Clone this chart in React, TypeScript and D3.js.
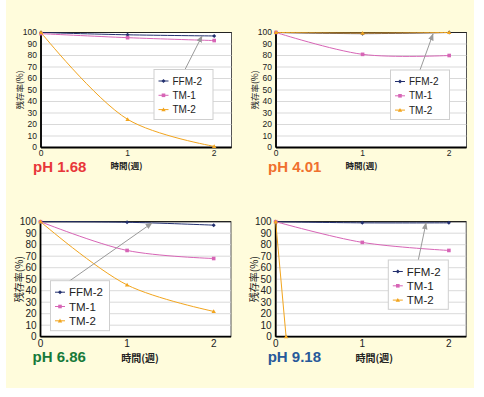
import * as d3 from 'd3'

// time axis (weeks)
const weeks = [0, 1, 2]
const xTicks = [0, 1, 2]
const yTicks = [0, 10, 20, 30, 40, 50, 60, 70, 80, 90, 100]
const seriesNames = ['FFM-2', 'TM-1', 'TM-2']

// pH 1.68
const ph168FFM2 = [100, 98, 97]
const ph168TM1 = [99, 95.5, 93]
const ph168TM2 = [100, 24.5, 1]

// pH 4.01
const ph401FFM2 = [100, 99, 100]
const ph401TM1 = [100, 81, 80]
const ph401TM2 = [100, 99.5, 100]

// pH 6.86
const ph686FFM2 = [100, 99.5, 97]
const ph686TM1 = [100, 75, 68]
const ph686TM2 = [100, 45, 22]

// pH 9.18
const ph918FFM2 = [100, 99, 99]
const ph918TM1 = [100, 82, 75]
const ph918TM2Weeks = [0, 0.12]
const ph918TM2 = [100, 0]

const colors = ['#23306e', '#d765b6', '#f2a51e']

type Panel = {
  label: string
  labelColor: string
  left: number
  top: number
  font: number
  series: { xs: number[]; ys: number[] }[]
  legend: { x: number; y: number; w: number; h: number }
  arrow: [number, number, number, number]
  xTitleDx: number
  xTitleY: number
  labelY: number
}

const panels: Panel[] = [
  {
    label: 'pH 1.68', labelColor: '#e8363a', left: 41, top: 32.5, font: 8.5,
    series: [
      { xs: weeks, ys: ph168FFM2 },
      { xs: weeks, ys: ph168TM1 },
      { xs: weeks, ys: ph168TM2 },
    ],
    legend: { x: 154, y: 69.5, w: 59, h: 50 },
    arrow: [185, 69.5, 202, 36],
    xTitleDx: -1, xTitleY: 168.5, labelY: 171.5,
  },
  {
    label: 'pH 4.01', labelColor: '#f0702e', left: 276, top: 32.5, font: 8.5,
    series: [
      { xs: weeks, ys: ph401FFM2 },
      { xs: weeks, ys: ph401TM1 },
      { xs: weeks, ys: ph401TM2 },
    ],
    legend: { x: 390.5, y: 70, w: 59, h: 49.5 },
    arrow: [420, 70, 433, 34],
    xTitleDx: -1, xTitleY: 168.5, labelY: 171.5,
  },
  {
    label: 'pH 6.86', labelColor: '#177a3a', left: 40.5, top: 221.7, font: 10,
    series: [
      { xs: weeks, ys: ph686FFM2 },
      { xs: weeks, ys: ph686TM1 },
      { xs: weeks, ys: ph686TM2 },
    ],
    legend: { x: 50.5, y: 280.7, w: 59, h: 50 },
    arrow: [67, 282.7, 152, 223],
    xTitleDx: 13, xTitleY: 361.5, labelY: 362,
  },
  {
    label: 'pH 9.18', labelColor: '#27599a', left: 275.7, top: 221.7, font: 10,
    series: [
      { xs: weeks, ys: ph918FFM2 },
      { xs: weeks, ys: ph918TM1 },
      { xs: ph918TM2Weeks, ys: ph918TM2 },
    ],
    legend: { x: 388.3, y: 260, w: 60, h: 49.3 },
    arrow: [418.3, 260, 426, 223],
    xTitleDx: 12, xTitleY: 361.5, labelY: 362,
  },
]

const plotW = 190.5
const plotH = 115

function Marker({ i, x, y }: { i: number; x: number; y: number }) {
  const c = colors[i]
  if (i === 0) {
    return <path d={`M${x - 2},${y}L${x},${y - 2}L${x + 2},${y}L${x},${y + 2}Z`} fill={c} />
  }
  if (i === 1) {
    return <rect x={x - 1.8} y={y - 1.8} width={3.6} height={3.6} fill={c} />
  }
  return <path d={`M${x},${y - 2.2}L${x + 2.2},${y + 1.6}L${x - 2.2},${y + 1.6}Z`} fill={c} />
}

function ChartPanel({ p }: { p: Panel }) {
  const x = d3.scaleLinear().domain([0, 2.2]).range([p.left, p.left + plotW])
  const y = d3.scaleLinear().domain([0, 100]).range([p.top + plotH, p.top])
  const line = d3
    .line<[number, number]>()
    .x((d) => x(d[0]))
    .y((d) => y(d[1]))
    .curve(d3.curveCatmullRom.alpha(0.5))
  const lf = p.font + 1.5
  return (
    <g>
      <rect x={p.left} y={p.top} width={plotW} height={plotH} fill="#fff" stroke="#555" strokeWidth={1} />
      {yTicks.slice(1, -1).map((t) => (
        <line key={t} x1={p.left} x2={p.left + plotW} y1={y(t)} y2={y(t)} stroke="#cfcfcf" strokeWidth={0.8} />
      ))}
      <line x1={p.left} x2={p.left + plotW} y1={p.top} y2={p.top} stroke="#222" strokeWidth={1.2} />
      <line x1={p.left} x2={p.left} y1={p.top} y2={p.top + plotH} stroke="#000" strokeWidth={1.8} />
      <line x1={p.left} x2={p.left + plotW} y1={p.top + plotH} y2={p.top + plotH} stroke="#000" strokeWidth={1.8} />
      {yTicks.map((t) => (
        <text key={t} x={p.left - 4} y={y(t)} dy="0.35em" textAnchor="end" fontSize={p.font} fill="#222">
          {t}
        </text>
      ))}
      {xTicks.map((t) => (
        <text
          key={t}
          x={x(t)}
          y={p.top + plotH + p.font * 0.7}
          dy="0.35em"
          textAnchor="middle"
          fontSize={p.font}
          fill="#222"
        >
          {t}
        </text>
      ))}
      <text
        transform={`translate(${p.left - 21},${p.top + plotH / 2}) rotate(-90)`}
        textAnchor="middle"
        dy="0.35em"
        fontSize={p.font}
        fill="#222"
        fontFamily="'Noto Sans CJK JP', sans-serif"
      >
        残存率(%)
      </text>
      <text
        x={x(1) + p.xTitleDx}
        y={p.xTitleY}
        textAnchor="middle"
        fontSize={p.font}
        fontWeight="bold"
        fill="#222"
        fontFamily="'Noto Sans CJK JP', sans-serif"
      >
        時間(週)
      </text>
      <text x={p.left - 8} y={p.labelY} fontSize={15} fontWeight="bold" fill={p.labelColor}>
        {p.label}
      </text>
      {p.series.map((s, i) => {
        const pts = s.xs.map((v, k) => [v, s.ys[k]] as [number, number])
        return (
          <g key={i}>
            <path d={line(pts) || ''} fill="none" stroke={colors[i]} strokeWidth={1} />
            {pts.map((d, k) => (
              <Marker key={k} i={i} x={x(d[0])} y={y(d[1])} />
            ))}
          </g>
        )
      })}
      <line
        x1={p.arrow[0]}
        y1={p.arrow[1]}
        x2={p.arrow[2]}
        y2={p.arrow[3]}
        stroke="#9a9a9a"
        strokeWidth={1}
        markerEnd="url(#arrowhead)"
      />
      <rect x={p.legend.x} y={p.legend.y} width={p.legend.w} height={p.legend.h} fill="#fff" stroke="#cfcfcf" strokeWidth={1} />
      {seriesNames.map((n, i) => {
        const ly = p.legend.y + 11.5 + i * 14.3
        const lx = p.legend.x + 4.5
        return (
          <g key={n}>
            <line x1={lx} x2={lx + 10} y1={ly} y2={ly} stroke={colors[i]} strokeWidth={1} />
            <Marker i={i} x={lx + 5} y={ly} />
            <text x={lx + 14} y={ly} dy="0.36em" fontSize={lf} fill="#222">
              {n}
            </text>
          </g>
        )
      })}
    </g>
  )
}

export default function App() {
  return (
    <svg
      width={484}
      height={397}
      viewBox="0 0 484 397"
      style={{ position: 'absolute', left: 0, top: 0 }}
      fontFamily="'Liberation Sans', Arial, sans-serif"
    >
      <defs>
        <marker id="arrowhead" viewBox="0 0 10 10" refX="9" refY="5" markerWidth="7" markerHeight="7" orient="auto">
          <path d="M0,1L10,5L0,9Z" fill="#9a9a9a" />
        </marker>
      </defs>
      <rect x={0} y={0} width={484} height={397} fill="#fff" />
      <rect x={6} y={0} width={468} height={388} fill="#fffcdc" />
      {panels.map((p) => (
        <ChartPanel key={p.label} p={p} />
      ))}
    </svg>
  )
}
